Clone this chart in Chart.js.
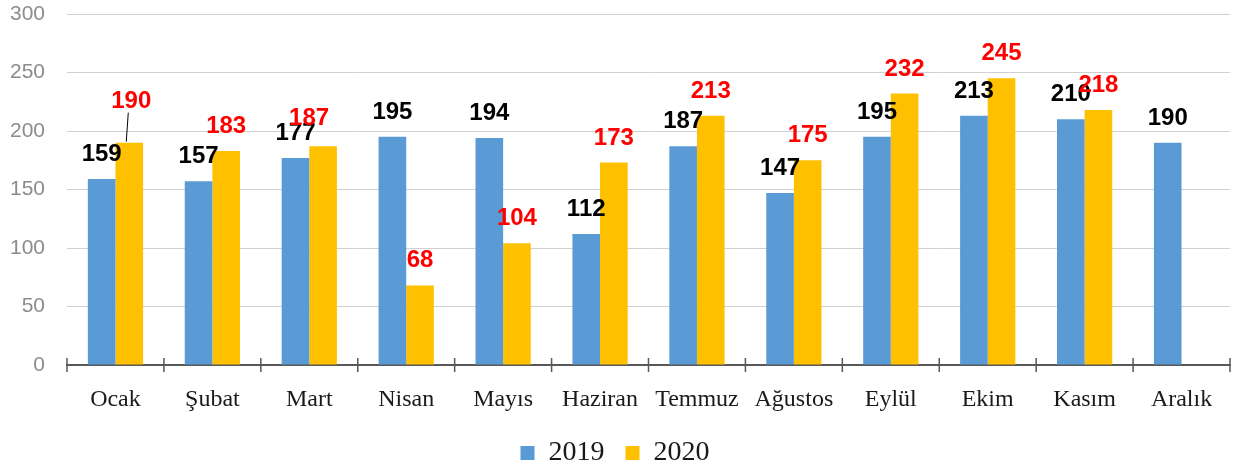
<!DOCTYPE html>
<html>
<head>
<meta charset="utf-8">
<script src="https://cdn.jsdelivr.net/npm/chart.js@4"></script>
<style>
    html, body { margin: 0; padding: 0; background: #fff; }
    #wrap { width: 1237px; height: 468px; position: relative; }
</style>
</head>
<body>
<div id="wrap"><canvas id="monthChart"></canvas></div>
<script>
const months = ['Ocak', 'Şubat', 'Mart', 'Nisan', 'Mayıs', 'Haziran', 'Temmuz', 'Ağustos', 'Eylül', 'Ekim', 'Kasım', 'Aralık'];
const values2019 = [159, 157, 177, 195, 194, 112, 187, 147, 195, 213, 210, 190];
const values2020 = [190, 183, 187, 68, 104, 173, 213, 175, 232, 245, 218, null];
const yTicks = [0, 50, 100, 150, 200, 250, 300];

// a few labels were nudged by hand in the original
const labelNudges = [
    { ds: 1, i: 0, dx: 2, dy: -17, leader: true },
    { ds: 1, i: 2, dx: -14, dy: -3 }
];

const valueLabels = {
    id: 'valueLabels',
    afterDatasetsDraw(chart) {
        const ctx = chart.ctx;
        ctx.save();
        ctx.font = 'bold 24px "Liberation Sans", Arial, sans-serif';
        ctx.textAlign = 'center';
        ctx.textBaseline = 'alphabetic';
        chart.data.datasets.forEach((ds, di) => {
            const meta = chart.getDatasetMeta(di);
            meta.data.forEach((bar, i) => {
                const v = ds.data[i];
                if (v === null || v === undefined) return;
                const nudge = labelNudges.find(n => n.ds === di && n.i === i) || {};
                const x = bar.x + (nudge.dx || 0);
                const y = bar.y - 18 + (nudge.dy || 0);
                if (nudge.leader) {
                    ctx.strokeStyle = '#000';
                    ctx.lineWidth = 1;
                    ctx.beginPath();
                    ctx.moveTo(bar.x - 3, bar.y - 1);
                    ctx.lineTo(bar.x - 1, y + 5);
                    ctx.stroke();
                }
                ctx.fillStyle = di === 0 ? '#000000' : '#ff0000';
                ctx.fillText(String(v), x, y);
            });
        });
        ctx.restore();
    }
};

// Excel-style tick marks crossing the category axis
const crossTicks = {
    id: 'crossTicks',
    afterDraw(chart) {
        const xs = chart.scales.x;
        const ctx = chart.ctx;
        const y0 = xs.top;
        ctx.save();
        ctx.strokeStyle = '#595959';
        ctx.lineWidth = 1.5;
        ctx.beginPath();
        for (let i = 0; i <= months.length; i++) {
            const x = xs.left + (xs.right - xs.left) * i / months.length;
            ctx.moveTo(x, y0 - 7);
            ctx.lineTo(x, y0 + 7);
        }
        ctx.stroke();
        ctx.restore();
    }
};

new Chart(document.getElementById('monthChart'), {
    type: 'bar',
    data: {
        labels: months,
        datasets: [
            {
                label: '2019',
                data: values2019,
                backgroundColor: '#5b9bd5',
                categoryPercentage: 0.57,
                barPercentage: 1
            },
            {
                label: '2020',
                data: values2020,
                backgroundColor: '#ffc000',
                categoryPercentage: 0.57,
                barPercentage: 1
            }
        ]
    },
    options: {
        responsive: true,
        maintainAspectRatio: false,
        animation: false,
        layout: { padding: { top: 14, right: 7, bottom: -9, left: 0 } },
        scales: {
            x: {
                offset: true,
                grid: {
                    display: true,
                    offset: true,
                    drawOnChartArea: false,
                    drawTicks: false
                },
                border: { display: true, color: '#595959', width: 2 },
                afterFit(axis) {
                    axis.height = 53;
                },
                ticks: {
                    color: '#1a1a1a',
                    padding: 20,
                    font: { family: '"Liberation Serif", "DejaVu Serif", serif', size: 24 }
                }
            },
            y: {
                min: 0,
                max: 300,
                afterBuildTicks(axis) {
                    axis.ticks = yTicks.map(v => ({ value: v }));
                },
                afterFit(axis) {
                    axis.width = 67;
                    axis.paddingTop = 0;
                    axis.paddingBottom = 0;
                },
                grid: { color: '#d0d0d0', lineWidth: 1, drawTicks: false },
                border: { display: false },
                ticks: {
                    color: '#8c8c8c',
                    padding: 22,
                    font: { family: '"Liberation Sans", Arial, sans-serif', size: 21 }
                }
            }
        },
        plugins: {
            legend: {
                position: 'bottom',
                labels: {
                    boxWidth: 14,
                    boxHeight: 14,
                    padding: 21,
                    color: '#1a1a1a',
                    font: { family: '"Liberation Serif", "DejaVu Serif", serif', size: 28 }
                }
            },
            tooltip: { enabled: false }
        }
    },
    plugins: [valueLabels, crossTicks]
});
</script>
</body>
</html>
